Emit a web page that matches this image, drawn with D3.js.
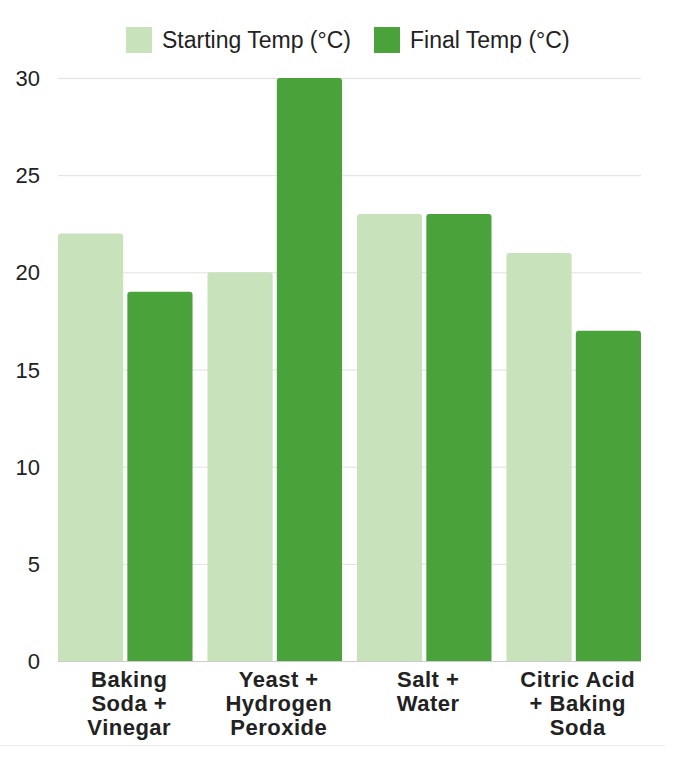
<!DOCTYPE html>
<html>
<head>
<meta charset="utf-8">
<script src="https://cdn.jsdelivr.net/npm/d3@7"></script>
<style>
  body { margin: 0; background: #fff; }
  text { font-family: "Liberation Sans", Arial, sans-serif; }
</style>
</head>
<body>
<svg width="680" height="760"></svg>
<script>
(function () {

  // data
  var categories = [
    ['Baking', 'Soda +', 'Vinegar'],
    ['Yeast +', 'Hydrogen', 'Peroxide'],
    ['Salt +', 'Water'],
    ['Citric Acid', '+ Baking', 'Soda']
  ]
  var seriesNames = ['Starting Temp (°C)', 'Final Temp (°C)']
  var startingTemp = [22, 20, 23, 21]
  var finalTemp = [19, 30, 23, 17]
  var yTicks = [0, 5, 10, 15, 20, 25, 30]

  var colours = ['#c8e2bb', '#4aa33a']
  var series = [startingTemp, finalTemp]

  var svg = d3.select('svg')
  var left = 58, right = 641, top = 78, bottom = 661

  var xScale = d3.scaleBand().domain(d3.range(categories.length))
    .range([left, right]).paddingInner(0.1).paddingOuter(0)
  var innerScale = d3.scaleBand().domain(d3.range(series.length))
    .range([0, xScale.bandwidth()]).paddingInner(0.06)
  var yScale = d3.scaleLinear().domain([0, 30]).range([bottom, top])

  // gridlines
  svg.selectAll('.grid')
    .data(yTicks)
    .enter().append('line')
    .attr('x1', left)
    .attr('x2', right)
    .attr('y1', d => yScale(d) + 0.5)
    .attr('y2', d => yScale(d) + 0.5)
    .attr('stroke', d => d === 0 ? '#cccccc' : '#e0e0e0')
    .attr('stroke-width', 1)

  // y labels
  svg.selectAll('.ylab')
    .data(yTicks)
    .enter().append('text')
    .attr('x', 40)
    .attr('y', d => yScale(d) + 8)
    .attr('text-anchor', 'end')
    .attr('font-size', 22)
    .attr('fill', '#222')
    .text(d => d)

  // bars with rounded top corners
  function barPath(x, y, w, h, r) {
    return 'M' + x + ',' + (y + h) +
      'V' + (y + r) +
      'Q' + x + ',' + y + ' ' + (x + r) + ',' + y +
      'H' + (x + w - r) +
      'Q' + (x + w) + ',' + y + ' ' + (x + w) + ',' + (y + r) +
      'V' + (y + h) + 'Z'
  }

  series.forEach(function (values, s) {
    svg.selectAll('.bar' + s)
      .data(values)
      .enter().append('path')
      .attr('fill', colours[s])
      .attr('d', function (d, i) {
        var x = xScale(i) + innerScale(s)
        var y = yScale(d)
        return barPath(x, y, innerScale.bandwidth(), yScale(0) - y, 3)
      })
  })

  // x labels, one text per line
  categories.forEach(function (lines, i) {
    svg.selectAll('.xlab' + i)
      .data(lines)
      .enter().append('text')
      .attr('x', xScale(i) + xScale.bandwidth() / 2 + 4)
      .attr('y', (d, j) => 687 + j * 24)
      .attr('text-anchor', 'middle')
      .attr('font-size', 22)
      .attr('font-weight', 'bold')
      .attr('letter-spacing', 0.5)
      .attr('fill', '#222')
      .text(d => d)
  })

  // bottom rule
  svg.append('line')
    .attr('x1', 0).attr('x2', 665)
    .attr('y1', 745.5).attr('y2', 745.5)
    .attr('stroke', '#ebebeb')

  // legend
  var legendX = [126, 374]
  var legend = svg.selectAll('.legend')
    .data(seriesNames)
    .enter().append('g')
    .attr('transform', (d, i) => 'translate(' + legendX[i] + ',27)')
  legend.append('rect')
    .attr('width', 26).attr('height', 26)
    .attr('fill', (d, i) => colours[i])
  legend.append('text')
    .attr('x', 36).attr('y', 21)
    .attr('font-size', 23)
    .attr('fill', '#222')
    .text(d => d)

})()
</script>
</body>
</html>
